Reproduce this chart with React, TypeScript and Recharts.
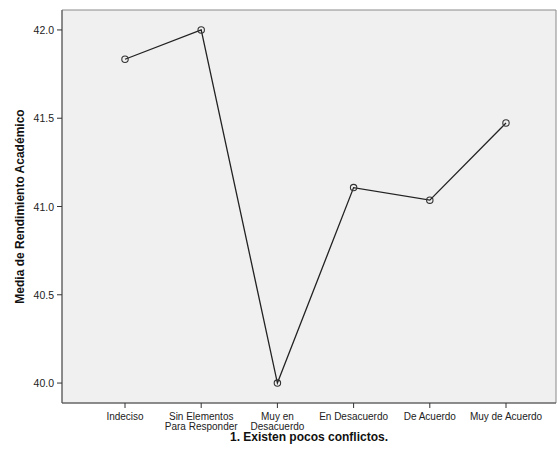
import React from 'react';
import { LineChart, Line, XAxis, YAxis, CartesianGrid } from 'recharts';

const categories = [
  'Indeciso',
  'Sin Elementos\nPara Responder',
  'Muy en\nDesacuerdo',
  'En Desacuerdo',
  'De Acuerdo',
  'Muy de Acuerdo',
];
const means = [41.834, 42.0, 40.0, 41.107, 41.036, 41.473];
const yTicks = [40.0, 40.5, 41.0, 41.5, 42.0];

const data = categories.map((c, i) => ({ cat: c, value: means[i] }));

const FONT = '"Liberation Sans", Arial, sans-serif';

const XTick = (props: any) => {
  const { x, y, payload } = props;
  const lines = String(payload.value).split('\n');
  return (
    <g transform={`translate(${x},${y})`}>
      {lines.map((l: string, i: number) => (
        <text key={i} x={0} y={10 + i * 9.5} textAnchor="middle" fontSize={10} fontFamily={FONT} fill="#222">
          {l}
        </text>
      ))}
    </g>
  );
};

const YTick = (props: any) => {
  const { x, y, payload } = props;
  return (
    <text x={x - 1} y={y + 4} textAnchor="end" fontSize={10.5} fontFamily={FONT} fill="#222">
      {Number(payload.value).toFixed(1)}
    </text>
  );
};

const Dot = (props: any) => {
  const { cx, cy } = props;
  return <circle cx={cx} cy={cy} r={3.2} fill="none" stroke="#333" strokeWidth={1.1} />;
};

export default function App() {
  return (
    <div style={{ position: 'absolute', left: 0, top: 0, background: '#fff' }}>
      <LineChart width={557} height={455} data={data} margin={{ top: 10, right: 1, bottom: 0, left: 0 }}>
        <CartesianGrid
          fill="#f0f0f0"
          stroke="#8a8a8a"
          horizontalCoordinatesGenerator={(p: any) => [p.offset.top, p.offset.top + p.offset.height]}
          verticalCoordinatesGenerator={(p: any) => [p.offset.left, p.offset.left + p.offset.width]}
        />
        <XAxis
          dataKey="cat"
          type="category"
          padding={{ left: 63, right: 50 }}
          height={52}
          interval={0}
          tick={<XTick />}
          tickSize={5}
          tickLine={{ stroke: '#333' }}
          axisLine={{ stroke: '#555' }}
          label={(p: any) => {
            const vb = p.viewBox;
            return (
              <text x={vb.x + vb.width / 2} y={441} textAnchor="middle" fontSize={12} fontWeight="bold" fontFamily={FONT} fill="#111">
                1. Existen pocos conflictos.
              </text>
            );
          }}
        />
        <YAxis
          type="number"
          domain={[39.887, 42.113]}
          ticks={yTicks}
          width={62}
          tick={<YTick />}
          tickSize={5}
          tickLine={{ stroke: '#333' }}
          axisLine={{ stroke: '#555' }}
          allowDataOverflow
          label={(p: any) => {
            const vb = p.viewBox;
            const cy = vb.y + vb.height / 2;
            return (
              <text x={24} y={cy} transform={`rotate(-90, 24, ${cy})`} textAnchor="middle" fontSize={12} fontWeight="bold" fontFamily={FONT} fill="#111">
                Media de Rendimiento Académico
              </text>
            );
          }}
        />
        <Line
          type="linear"
          dataKey="value"
          stroke="#222"
          strokeWidth={1.3}
          dot={<Dot />}
          activeDot={false}
          isAnimationActive={false}
        />
      </LineChart>
    </div>
  );
}
